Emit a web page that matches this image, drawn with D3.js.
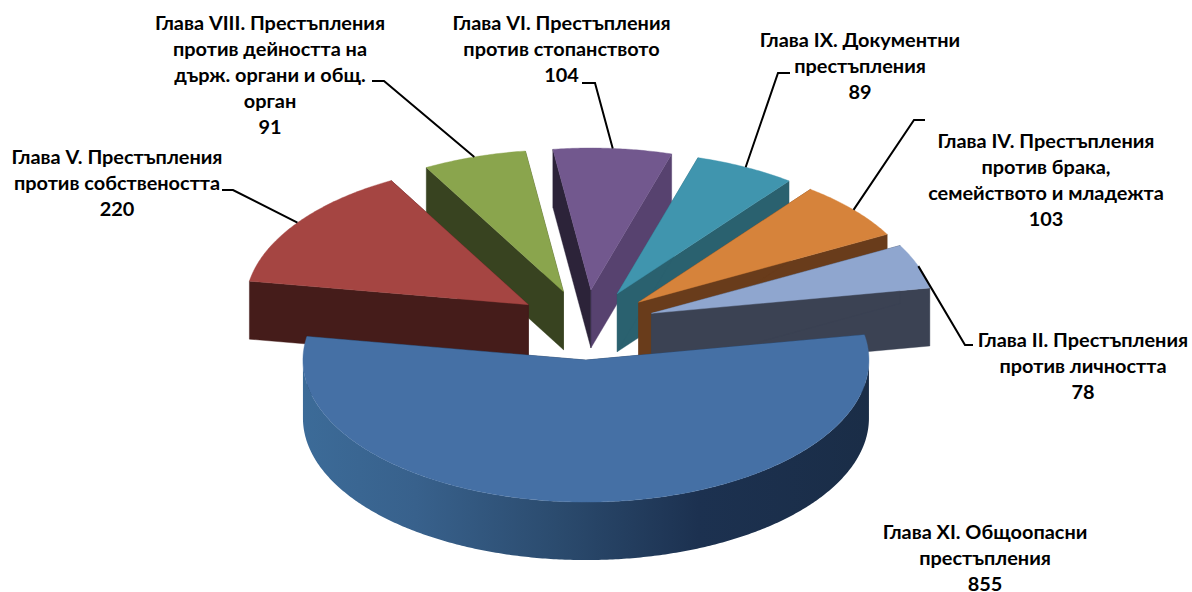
<!DOCTYPE html>
<html><head><meta charset="utf-8">
<script src="https://cdn.jsdelivr.net/npm/d3@7"></script>
<style>html,body{margin:0;padding:0;background:#fff}svg{display:block}
text{font-family:Lato,"Open Sans","Noto Sans",sans-serif;font-weight:700;font-size:19.9px;fill:#000;text-anchor:middle;dominant-baseline:middle}</style>
</head><body><svg id="c" width="1192" height="592"></svg>
<script>
const chapters = ["Глава XI. Общоопасни престъпления","Глава V. Престъпления против собствеността","Глава VIII. Престъпления против дейността на държ. органи и общ. орган","Глава VI. Престъпления против стопанството","Глава IX. Документни престъпления","Глава IV. Престъпления против брака, семейството и младежта","Глава II. Престъпления против личността"];
const values = [855,220,91,104,89,103,78];
const labelLines = [
 ["Глава XI. Общоопасни","престъпления"],
 ["Глава V. Престъпления","против собствеността"],
 ["Глава VIII. Престъпления","против дейността на","държ. органи и общ.","орган"],
 ["Глава VI. Престъпления","против стопанството"],
 ["Глава IX. Документни","престъпления"],
 ["Глава IV. Престъпления","против брака,","семейството и младежта"],
 ["Глава II. Престъпления","против личността"]];
// styling and layout (kept apart from the data)
const topColors   = ["#4570a5","#a54542","#8aa54d","#72588e","#4095ae","#d6833b","#8fa6cf"];
const wallStart   = ["#1a2d47","#451c1a","#384320","#2c2339","#2a616f","#693c1b","#3b4253"];
const wallEnd     = ["#1a2d47","#451c1a","#384320","#57426f","#2a616f","#693c1b","#3b4253"];
const labelAt     = [[985,534],[117,159],[270,25],[561.5,25],[860,42],[1046,143],[1083,342]];
const leaderFrom  = [null,[[222,190],[233,190]],[[372,81],[384,81]],[[582,83],[595,83]],[[790,73],[778,73]],[[925,120],[914,120]],[[973,345],[965,345]]];
const lineStep = 26;
const cx=585.5, cy=325, rx=283, ry=142, depth=58, explode=0.247;
const startDeg = 79.7;

const svg=d3.select("#c");
const defs=svg.append("defs");
const grad=defs.append("linearGradient").attr("id","blueWall").attr("gradientUnits","userSpaceOnUse")
  .attr("x1",cx-rx).attr("x2",cx+rx).attr("y1",0).attr("y2",0);
[[0,"#3c6b98"],[0.2,"#38618c"],[0.45,"#2b4b6e"],[0.7,"#1c3150"],[1,"#1a2d47"]].forEach(s=>grad.append("stop").attr("offset",s[0]).attr("stop-color",s[1]));

const pie=d3.pie().sort(null).startAngle(startDeg*Math.PI/180).endAngle((startDeg+360)*Math.PI/180);
const arcs=pie(values).map((d,i)=>{
  const mid=(d.startAngle+d.endAngle)/2;
  return {...d,i,mid,ax:cx+explode*rx*Math.sin(mid),ay:cy-explode*ry*Math.cos(mid)};
});
const pt=(s,a,dz=0)=>[s.ax+rx*Math.sin(a),s.ay-ry*Math.cos(a)+dz];
const line=d3.line();
const samples=(a0,a1)=>{const n=Math.max(2,Math.ceil(Math.abs(a1-a0)/0.01));return d3.range(n+1).map(k=>a0+(a1-a0)*k/n);};

arcs.slice().sort((a,b)=>a.ay-b.ay).forEach(s=>{
  const g=svg.append("g");
  const apex=[s.ax,s.ay], apexB=[s.ax,s.ay+depth];
  const cut=(a,c)=>g.append("path").attr("d",line([apex,pt(s,a),pt(s,a,depth),apexB])+"Z").attr("fill",c).attr("stroke",c).attr("stroke-width",.4);
  cut(s.endAngle,wallEnd[s.i]);
  cut(s.startAngle,wallStart[s.i]);
  let lo=Math.max(s.startAngle,Math.PI/2), hi=Math.min(s.endAngle,Math.PI*1.5);
  if(hi>lo){
    const as=samples(lo,hi);
    const poly=as.map(a=>pt(s,a)).concat(as.slice().reverse().map(a=>pt(s,a,depth)));
    g.append("path").attr("d",line(poly)+"Z").attr("fill",s.i===0?"url(#blueWall)":wallStart[s.i]);
  }
  const face=[apex].concat(samples(s.startAngle,s.endAngle).map(a=>pt(s,a)));
  g.append("path").attr("d",line(face)+"Z").attr("fill",topColors[s.i]).attr("stroke",topColors[s.i]).attr("stroke-width",.4);
});

// leader lines end on the middle of each slice's outer edge
arcs.forEach(s=>{
  if(!leaderFrom[s.i])return;
  svg.append("path").attr("d",line(leaderFrom[s.i].concat([pt(s,s.mid)])))
    .attr("fill","none").attr("stroke","#000").attr("stroke-width",2);
});

chapters.forEach((name,i)=>{
  const t=svg.append("text").attr("aria-label",name);
  labelLines[i].concat([String(values[i])]).forEach((l,k)=>{
    t.append("tspan").attr("x",labelAt[i][0]).attr("y",labelAt[i][1]+k*lineStep).text(l);
  });
});
</script></body></html>
